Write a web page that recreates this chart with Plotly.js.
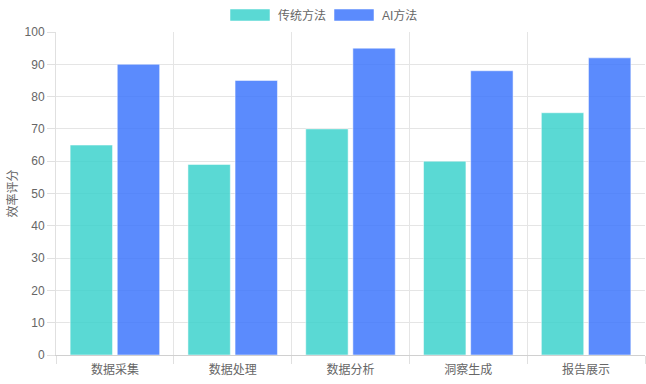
<!DOCTYPE html>
<html>
<head>
<meta charset="utf-8">
<script src="https://cdn.plot.ly/plotly-3.0.1.min.js"></script>
<style>html,body{margin:0;padding:0;background:#fff;}#chart{width:646px;height:384px;}</style>
</head>
<body>
<div id="chart"></div>
<script>
const categories = ["数据采集", "数据处理", "数据分析", "洞察生成", "报告展示"];
const traditional = [65, 59, 70, 60, 75];
const ai = [90, 85, 95, 88, 92];
const seriesNames = ["传统方法", "AI方法"];
const colors = ["rgba(54,209,203,0.82)", "rgba(55,114,252,0.82)"];
const font = "'Liberation Sans', 'Noto Sans CJK SC', sans-serif";

const traces = [traditional, ai].map((vals, i) => ({
  type: "bar",
  name: seriesNames[i],
  x: categories,
  y: vals,
  marker: {color: colors[i], line: {color: "rgba(255,255,255,0.5)", width: 1}},
  showlegend: false,
  hoverinfo: "x+y+name"
}));

const layout = {
  width: 646, height: 384,
  margin: {l: 56, r: 1, t: 32, b: 29},
  paper_bgcolor: "#fff", plot_bgcolor: "#fff",
  font: {family: font, size: 12, color: "#666"},
  barmode: "group",
  bargap: 0.2,
  bargroupgap: 0.1,
  xaxis: {
    type: "category",
    tickson: "boundaries",
    ticks: "outside", ticklen: 8, tickcolor: "#e0e0e0",
    ticklabelstandoff: 4,
    showgrid: true, gridcolor: "#e5e5e5",
    showline: true, linecolor: "#d0d0d0", linewidth: 1,
    tickfont: {family: font, size: 12, color: "#666"},
    fixedrange: true
  },
  yaxis: {
    range: [0, 100], dtick: 10,
    ticks: "outside", ticklen: 8, tickcolor: "#e0e0e0",
    showgrid: true, gridcolor: "#e5e5e5",
    showline: true, linecolor: "#e0e0e0",
    zeroline: false,
    tickfont: {family: font, size: 12, color: "#666"},
    title: {text: "效率评分", font: {family: font, size: 12, color: "#666"}, standoff: 4},
    fixedrange: true
  }
};

// custom legend (Chart.js style wide boxes), positioned in pixel terms relative to paper
const plotW = 646 - 56 - 1, plotH = 384 - 32 - 29;
function px(x) { return (x - 56) / plotW; }
function py(y) { return (384 - 29 - y) / plotH; }
layout.shapes = [
  {type: "rect", xref: "paper", yref: "paper", x0: px(230), x1: px(270), y0: py(21), y1: py(9), fillcolor: colors[0], line: {width: 1, color: "rgba(255,255,255,0.5)"}},
  {type: "rect", xref: "paper", yref: "paper", x0: px(334), x1: px(374), y0: py(21), y1: py(9), fillcolor: colors[1], line: {width: 1, color: "rgba(255,255,255,0.5)"}}
];
layout.annotations = [
  {xref: "paper", yref: "paper", x: px(276), y: py(15), xanchor: "left", yanchor: "middle", text: seriesNames[0], showarrow: false, font: {family: font, size: 12, color: "#666"}},
  {xref: "paper", yref: "paper", x: px(380), y: py(15), xanchor: "left", yanchor: "middle", text: seriesNames[1], showarrow: false, font: {family: font, size: 12, color: "#666"}}
];

Plotly.newPlot("chart", traces, layout, {displayModeBar: false});
</script>
</body>
</html>
